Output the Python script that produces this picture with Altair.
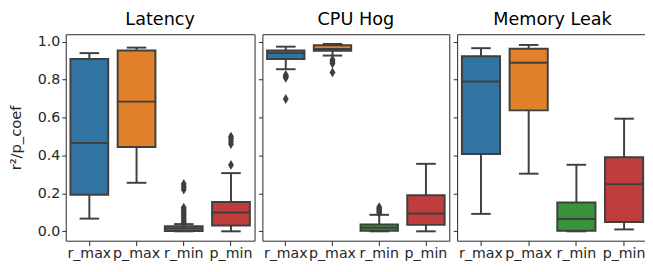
import altair as alt
import pandas as pd

cats = ["r_max", "p_max", "r_min", "p_min"]
panels = ["Latency", "CPU Hog", "Memory Leak"]
colors = ["#3274a1", "#e1812c", "#3a923a", "#c03d3e"]

# per panel: whisker low, q1, median, q3, whisker high (order of cats)
lat_lo = [0.067, 0.256, 0.0, 0.0]
lat_q1 = [0.193, 0.445, 0.002, 0.031]
lat_med = [0.466, 0.684, 0.015, 0.099]
lat_q3 = [0.909, 0.954, 0.027, 0.155]
lat_hi = [0.940, 0.969, 0.038, 0.307]

cpu_lo = [0.855, 0.927, 0.0, 0.0]
cpu_q1 = [0.909, 0.952, 0.003, 0.034]
cpu_med = [0.940, 0.962, 0.019, 0.094]
cpu_q3 = [0.954, 0.981, 0.036, 0.190]
cpu_hi = [0.974, 0.988, 0.087, 0.356]

mem_lo = [0.092, 0.304, 0.0, 0.010]
mem_q1 = [0.408, 0.638, 0.003, 0.049]
mem_med = [0.790, 0.889, 0.065, 0.249]
mem_q3 = [0.923, 0.963, 0.152, 0.391]
mem_hi = [0.966, 0.983, 0.351, 0.594]

# outliers
lat_r_min_out = [0.045, 0.055, 0.065, 0.075, 0.085, 0.095, 0.105, 0.115, 0.125, 0.22, 0.235, 0.25]
lat_p_min_out = [0.35, 0.46, 0.475, 0.49, 0.50]
cpu_r_max_out = [0.81, 0.815, 0.82, 0.825, 0.698]
cpu_p_max_out = [0.885, 0.895, 0.905, 0.838]
cpu_r_min_out = [0.097, 0.105, 0.113, 0.12, 0.128]

stats = {
    "Latency": (lat_lo, lat_q1, lat_med, lat_q3, lat_hi),
    "CPU Hog": (cpu_lo, cpu_q1, cpu_med, cpu_q3, cpu_hi),
    "Memory Leak": (mem_lo, mem_q1, mem_med, mem_q3, mem_hi),
}
rows = []
for p, (lo, q1, med, q3, hi) in stats.items():
    for i, c in enumerate(cats):
        rows.append(dict(panel=p, cat=c, lo=lo[i], q1=q1[i], med=med[i], q3=q3[i], hi=hi[i]))
box_df = pd.DataFrame(rows)

out_rows = []
for p, c, vals in [
    ("Latency", "r_min", lat_r_min_out),
    ("Latency", "p_min", lat_p_min_out),
    ("CPU Hog", "r_max", cpu_r_max_out),
    ("CPU Hog", "p_max", cpu_p_max_out),
    ("CPU Hog", "r_min", cpu_r_min_out),
]:
    for v in vals:
        out_rows.append(dict(panel=p, cat=c, val=v))
out_df = pd.DataFrame(out_rows)

EDGE = "#3f3f3f"
INK = "#262626"
FONT = "DejaVu Sans"
PLOT_H = 211
yticks = [0.0, 0.2, 0.4, 0.6, 0.8, 1.0]
yscale = alt.Scale(domain=[-0.0495, 1.0395], nice=False, zero=False)
xscale = alt.Scale(domain=cats, paddingInner=0, paddingOuter=0)
cscale = alt.Scale(domain=cats, range=colors)
diamond = "M0,-1L0.6,0L0,1L-0.6,0Z"


def make_panel(name, width, first):
    if first:
        yaxis = alt.Axis(values=yticks, format=".1f", title="r²/p_coef", tickSize=4,
                         labelPadding=2, titlePadding=14, labelFontSize=14.5,
                         titleFontSize=15, titleFontWeight="normal")
    else:
        yaxis = alt.Axis(values=yticks, labels=False, title=None, tickSize=4)
    xaxis = alt.Axis(title=None, labelAngle=0, tickSize=5, labelPadding=1,
                     labelFontSize=14.5)
    x = alt.X("cat:N", scale=xscale, sort=cats, axis=xaxis)
    bw = round(0.8 * width / 4)

    b = alt.Chart(box_df).transform_filter(alt.datum.panel == name)
    whisk = b.mark_rule(color=EDGE, strokeWidth=2).encode(
        x=x, y=alt.Y("lo:Q", scale=yscale, axis=yaxis), y2="hi:Q")
    cap_lo = b.mark_tick(color=EDGE, size=20, thickness=2, opacity=1).encode(
        x=x, y=alt.Y("lo:Q", scale=yscale, axis=yaxis))
    cap_hi = b.mark_tick(color=EDGE, size=20, thickness=2, opacity=1).encode(
        x=x, y=alt.Y("hi:Q", scale=yscale, axis=yaxis))
    box = b.mark_bar(width=alt.RelativeBandSize(0.8), stroke=EDGE, strokeWidth=2).encode(
        x=x, y=alt.Y("q1:Q", scale=yscale, axis=yaxis), y2="q3:Q",
        color=alt.Color("cat:N", scale=cscale, legend=None))
    med = b.mark_tick(color=EDGE, size=bw, thickness=2, opacity=1).encode(
        x=x, y=alt.Y("med:Q", scale=yscale, axis=yaxis))
    layers = [whisk, cap_lo, cap_hi, box, med]
    sub = out_df[out_df.panel == name]
    if len(sub):
        pts = alt.Chart(sub).mark_point(shape=diamond, filled=True, size=100,
                                        color=EDGE, opacity=1, strokeWidth=0).encode(
            x=x, y=alt.Y("val:Q", scale=yscale, axis=yaxis))
        layers.append(pts)
    return alt.layer(*layers).properties(
        width=width, height=PLOT_H,
        title=alt.TitleParams(name, fontSize=18, font=FONT, fontWeight="normal",
                              color="#000000", offset=5))


chart = alt.hconcat(
    make_panel("Latency", 193, True),
    make_panel("CPU Hog", 191, False),
    make_panel("Memory Leak", 195, False),
    spacing=2,
).properties(
    padding={"left": 0, "top": 0, "right": -4, "bottom": 1.5}
).configure_view(
    stroke=INK, strokeWidth=1
).configure_axis(
    domain=False, grid=False, tickColor=INK, tickWidth=1, labelColor=INK,
    titleColor=INK, labelFont=FONT, titleFont=FONT
).configure_title(anchor="middle")

chart.save("out.html", embed_options={"renderer": "svg", "actions": False})
